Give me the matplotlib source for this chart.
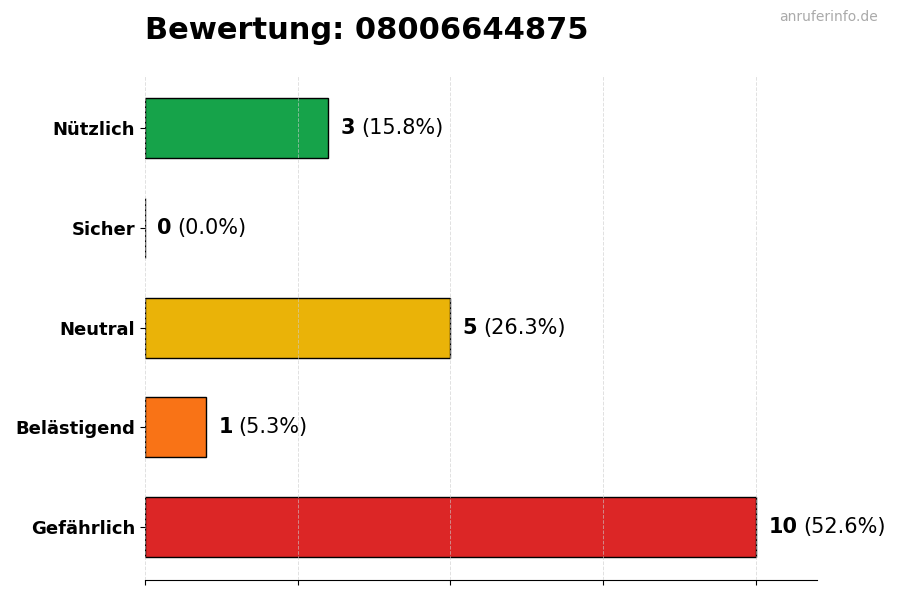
import matplotlib
matplotlib.use("Agg")
import matplotlib.pyplot as plt
from matplotlib.transforms import offset_copy

categories = ["Nützlich", "Sicher", "Neutral", "Belästigend", "Gefährlich"]
counts = [3, 0, 5, 1, 10]
colors = ["#16a34a", "#3b82f6", "#eab308", "#f97316", "#dc2626"]
title = "Bewertung: 08006644875"
watermark = "anruferinfo.de"

total = sum(counts)

fig, ax = plt.subplots(figsize=(9, 6), dpi=100)
fig.subplots_adjust(left=0.161, right=0.908, top=0.875, bottom=0.033)

ypos = list(range(len(categories)))[::-1]
ax.barh(ypos, counts, height=0.6, color=colors, edgecolor="black", linewidth=1, zorder=1)
ax.set_xlim(0, max(counts) * 1.1)
ax.set_xticks([0, 2.5, 5, 7.5, 10])
ax.set_xticklabels([])
ax.set_yticks(ypos)
ax.set_yticklabels(categories, fontsize=13, fontweight="bold")
ax.grid(axis="x", linestyle="--", color="#cccccc", alpha=0.6, linewidth=0.7, zorder=2)
ax.set_axisbelow(False)
for s in ["top", "right", "left"]:
    ax.spines[s].set_visible(False)

fig.canvas.draw()
renderer = fig.canvas.get_renderer()
for y, c in zip(ypos, counts):
    t = ax.text(c + 0.2, y, str(c), fontsize=15, fontweight="bold", va="center", ha="left")
    w = t.get_window_extent(renderer).width
    trans = offset_copy(ax.transData, fig=fig, x=w + 6, y=0, units="dots")
    ax.text(c + 0.2, y, f"({c / total * 100:.1f}%)", fontsize=15, va="center", ha="left",
            transform=trans)

ax.set_title(title, loc="left", fontsize=22, fontweight="bold", pad=26)
fig.text(0.975, 0.983, watermark, ha="right", va="top", fontsize=10, color="#aaaaaa")

fig.savefig("out.png", dpi=100)
